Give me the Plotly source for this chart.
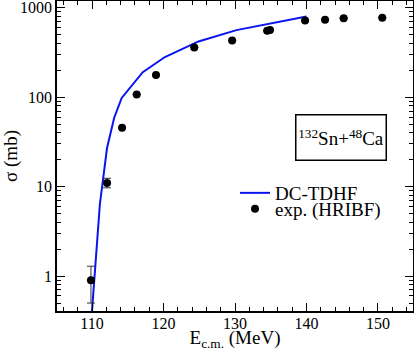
import plotly.graph_objects as go

# DC-TDHF fusion cross section
tdhf_energy = [109.9, 111.1, 112.1, 113.1, 114.15, 117.1, 120.2, 124.9, 130.2, 140.0]
tdhf_sigma = [0.32, 6.4, 27, 59, 98, 190, 281, 420, 562, 798]

# experimental data (HRIBF)
exp_energy = [109.85, 112.1, 114.2, 116.25, 118.95, 124.3, 129.6, 134.5, 134.9, 139.8, 142.6, 145.2, 150.6]
exp_sigma = [0.90, 11.0, 45.5, 107, 177, 360, 431, 553, 565, 720, 735, 764, 773]
exp_err_plus = [0.39, 1.4, 0, 0, 0, 0, 0, 0, 0, 0, 0, 0, 0]
exp_err_minus = [0.40, 1.3, 0, 0, 0, 0, 0, 0, 0, 0, 0, 0, 0]

font_family = "Liberation Serif"

fig = go.Figure()
fig.add_trace(go.Scatter(
    x=tdhf_energy, y=tdhf_sigma, mode="lines", name="DC-TDHF",
    line=dict(color="#0a14f0", width=2), legend="legend",
))
fig.add_trace(go.Scatter(
    x=exp_energy, y=exp_sigma, mode="markers", name="exp. (HRIBF)",
    marker=dict(color="black", size=8), legend="legend2",
    error_y=dict(type="data", symmetric=False, array=exp_err_plus,
                 arrayminus=exp_err_minus, color="#333333", thickness=1, width=4),
))

# plot area in pixels: x 57..413, y 1..311
def px_x(p):
    return (p - 57) / 356


def px_y(p):
    return 1 - (p - 1) / 310


fig.add_annotation(
    x=px_x(341), y=px_y(137.5), xref="paper", yref="paper", showarrow=False,
    xanchor="center", yanchor="middle",
    text="<sup>132</sup>Sn+<sup>48</sup>Ca",
    font=dict(family=font_family, size=19, color="black"),
    width=87, height=42, bordercolor="black", borderwidth=1.5, borderpad=1,
)

axis_common = dict(
    showline=True, linecolor="black", linewidth=1.5, mirror="allticks",
    ticks="inside", ticklen=8, tickwidth=1, tickcolor="black",
    showgrid=False, zeroline=False, automargin=False,
    tickfont=dict(family=font_family, size=16, color="black"),
)

fig.update_xaxes(
    range=[105.1, 154.9], dtick=10, tick0=110, ticklabelstandoff=-3,
    minor=dict(ticks="inside", ticklen=4, dtick=2, tickcolor="black", showgrid=False),
    title=dict(text="E<sub>c.m.</sub> (MeV)", font=dict(family=font_family, size=19, color="black"),
               standoff=8),
    **axis_common,
)
fig.update_yaxes(
    type="log", range=[-0.39, 3.075], ticklabeloverflow="allow",
    tickvals=[1, 10, 100, 1000], ticktext=["1", "10", "100", "1000"],
    minor=dict(ticks="inside", ticklen=4, tickcolor="black", showgrid=False,
               tickvals=[m * 10 ** e for e in range(-1, 4) for m in range(2, 10)]),
    title=dict(text="σ (mb)", font=dict(family=font_family, size=19, color="black"),
               standoff=11),
    **axis_common,
)

legend_style = dict(xanchor="left", yanchor="top", bgcolor="rgba(0,0,0,0)",
                    font=dict(family=font_family, size=19, color="black"),
                    tracegroupgap=0, itemwidth=30)

fig.update_layout(
    width=414, height=351,
    margin=dict(l=57, r=1, t=1, b=40),
    plot_bgcolor="white", paper_bgcolor="white",
    showlegend=True,
    legend=dict(x=px_x(235), y=px_y(174), **legend_style),
    legend2=dict(x=px_x(235), y=px_y(190), **legend_style),
    font=dict(family=font_family),
)

# drop the default page margin so the figure sits at the window's corner
fig.write_html("out.html", config={"displayModeBar": False},
               post_script="document.body.style.margin='0';")
